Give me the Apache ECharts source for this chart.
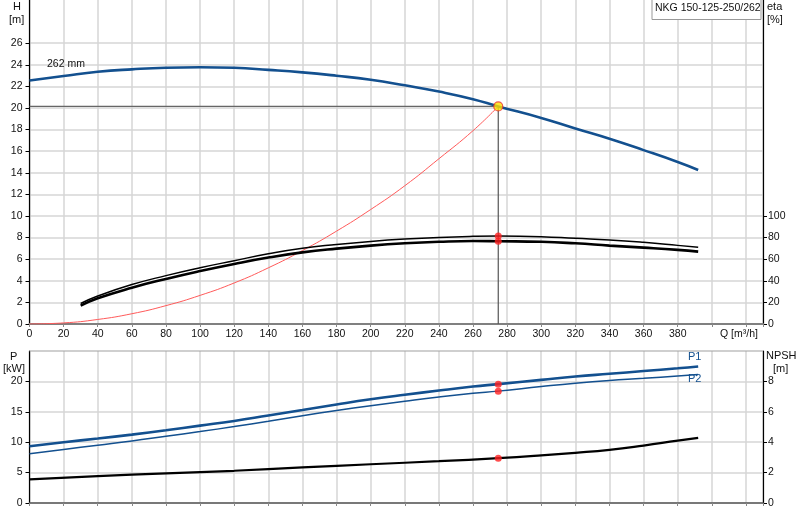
<!DOCTYPE html>
<html><head><meta charset="utf-8">
<script src="https://cdn.jsdelivr.net/npm/echarts@6/dist/echarts.min.js"></script>
<style>html,body{margin:0;padding:0;background:#fff}#c{width:800px;height:520px}</style>
</head><body><div id="c"></div>
<script>
// ---- data ----
const opQ = 274.8;          // duty point flow [m3/h]
const opH = 20.15;          // duty point head [m]
const headCurve = [[0,22.55],[20,22.96],[40,23.35],[60,23.58],[80,23.73],[100,23.77],[120,23.72],[140,23.53],[160,23.3],[180,22.99],[200,22.62],[220,22.1],[240,21.52],[260,20.82],[274.8,20.15],[300,19.08],[320,18.1],[340,17.15],[360,16.1],[380,15.0],[392,14.26]];
const systemCurve = [[0,0],[20,0.1],[40,0.42],[60,0.95],[80,1.7],[100,2.65],[120,3.8],[140,5.2],[160,6.8],[180,8.6],[200,10.6],[220,12.8],[240,15.3],[260,17.9],[274.8,20.15]];
const etaPump = [[30,19],[40,25.9],[60,36.5],[80,44.8],[100,52.1],[120,58.6],[140,65],[160,70.2],[180,73.6],[200,76.4],[220,78.6],[240,80.2],[260,81.2],[274.8,81.5],[300,80.9],[320,79.3],[340,77.8],[360,75.6],[380,72.8],[392,71]];
const etaTotal = [[30,17],[40,23.8],[60,33.6],[80,41.7],[100,49],[120,55.6],[140,61.5],[160,66.3],[180,69.8],[200,72.6],[220,74.7],[240,76.1],[260,76.8],[274.8,76.6],[300,76.1],[320,74.7],[340,72.6],[360,70.7],[380,68.6],[392,67]];
const p1Curve = [[0,9.34],[20,10.0],[40,10.6],[60,11.25],[80,11.97],[100,12.73],[120,13.5],[140,14.4],[160,15.3],[180,16.2],[200,17.05],[220,17.8],[240,18.5],[260,19.15],[274.8,19.55],[300,20.25],[320,20.8],[340,21.25],[360,21.7],[380,22.15],[392,22.46]];
const p2Curve = [[0,8.1],[20,8.8],[40,9.5],[60,10.2],[80,10.98],[100,11.75],[120,12.57],[140,13.45],[160,14.35],[180,15.2],[200,16.0],[220,16.75],[240,17.45],[260,18.05],[274.8,18.4],[300,19.15],[320,19.7],[340,20.15],[360,20.5],[380,20.9],[392,21.15]];
const npshCurve = [[0,1.55],[40,1.77],[80,1.95],[120,2.12],[160,2.34],[200,2.55],[240,2.75],[274.8,2.95],[300,3.13],[320,3.3],[340,3.5],[360,3.78],[380,4.1],[392,4.28]];
const qLabels = [0,20,40,60,80,100,120,140,160,180,200,220,240,260,280,300,320,340,360,380];
const hLabels = [0,2,4,6,8,10,12,14,16,18,20,22,24,26];
const etaLabels = [0,20,40,60,80,100];
const pLabels = [0,5,10,15,20];
const npshLabels = [0,2,4,6,8];

const FONT = 'Liberation Sans, Arial, sans-serif';
const BLUE = '#13508f';
const GRIDC = '#d6d6d6';
const chart = echarts.init(document.getElementById('c'), null, {renderer:'canvas'});

function xAx(grid, labels){
  return {type:'value', gridIndex:grid, min:0, max:430, interval:20,
    axisLine:{show:true, onZero:false, lineStyle:{color: grid===0?'#808080':'#555', width: grid===0?2:1.5}},
    axisTick:{show:true, length:3, lineStyle:{color:'#888'}},
    axisLabel:{show:labels, margin:5, fontSize:10.5, fontFamily:FONT, color:'#111',
      formatter: v => qLabels.indexOf(v) >= 0 ? String(v) : ''},
    splitLine:{show:true, lineStyle:{color:GRIDC, width:1.5}}};
}
function yAx(grid, pos, max, interval, labels, split){
  return {type:'value', gridIndex:grid, position:pos, min:0, max:max, interval:interval,
    axisLine:{show:true, onZero:false, lineStyle:{color:'#000', width:1.2}},
    axisTick:{show:true, length:4, inside:false, customValues:labels, lineStyle:{color:'#000'}},
    axisLabel:{show:true, margin: pos==='left'?7:5, fontSize:10.5, fontFamily:FONT, color:'#111',
      customValues:labels, formatter: v => labels.indexOf(v) >= 0 ? String(v) : ''},
    splitLine:{show:split, lineStyle:{color:GRIDC, width:1.5}}};
}
function line(data, xi, yi, color, width, z, sm){
  return {type:'line', data:data, xAxisIndex:xi, yAxisIndex:yi, smooth: sm===undefined?0.5:sm, symbol:'none',
    lineStyle:{color:color, width:width}, z:z||3, silent:true, animation:false};
}
function dots(data, xi, yi, color, size, border){
  return {type:'scatter', data:data, xAxisIndex:xi, yAxisIndex:yi, symbolSize:size,
    itemStyle:{color:color, borderColor:border||color, borderWidth:border?1.2:0}, z:10, animation:false};
}

const opt = {
  animation:false,
  backgroundColor:'#fff',
  grid:[{left:29.5, right:37, top:0, height:324},{left:29.5, right:37, top:351, height:152}],
  xAxis:[xAx(0,true), xAx(1,false)],
  yAxis:[yAx(0,'left',30,2,hLabels,true), yAx(0,'right',300,20,etaLabels,false),
         yAx(1,'left',25,5,pLabels,true), yAx(1,'right',10,2,npshLabels,false)],
  series:[
    line([[0,opH],[opQ,opH]],0,0,'#666',1.2,2,false),
    line([[opQ,opH],[opQ,0]],0,0,'#555',1.2,2,false),
    line(systemCurve,0,0,'#ff5a5a',1,3),
    line(headCurve,0,0,BLUE,2.6,4),
    line(etaPump,0,1,'#000',1.5,4),
    line(etaTotal,0,1,'#000',2.6,4),
    dots([[opQ,opH]],0,0,'#ffe000',9,'#e83030'),
    dots([[opQ,81.5],[opQ,76.6]],0,1,'#ff2020',7),
    line(p1Curve,1,2,BLUE,2.6,4),
    line(p2Curve,1,2,BLUE,1.5,4),
    line(npshCurve,1,3,'#000',2.2,4),
    dots([[opQ,19.55],[opQ,18.4]],1,2,'#ff2020',7),
    dots([[opQ,2.95]],1,3,'#ff2020',7)
  ],
  graphic:[
    {type:'line', shape:{x1:29.5, y1:351, x2:763, y2:351}, style:{stroke:'#a0a0a0', lineWidth:1.2}, z:5},
    {type:'text', left:13, top:1, style:{text:'H', font:'11px '+FONT, fill:'#111'}},
    {type:'text', left:9, top:14, style:{text:'[m]', font:'11px '+FONT, fill:'#111'}},
    {type:'text', left:767, top:1, style:{text:'eta', font:'11px '+FONT, fill:'#111'}},
    {type:'text', left:767, top:14, style:{text:'[%]', font:'11px '+FONT, fill:'#111'}},
    {type:'text', left:10, top:351, style:{text:'P', font:'11px '+FONT, fill:'#111'}},
    {type:'text', left:3, top:363, style:{text:'[kW]', font:'11px '+FONT, fill:'#111'}},
    {type:'text', left:766, top:350, style:{text:'NPSH', font:'11px '+FONT, fill:'#111'}},
    {type:'text', left:773, top:363, style:{text:'[m]', font:'11px '+FONT, fill:'#111'}},
    {type:'text', left:720, top:329, style:{text:'Q [m³/h]', font:'10.5px '+FONT, fill:'#111'}},
    {type:'text', left:47, top:59, style:{text:'262 mm', font:'10.5px '+FONT, fill:'#111'}, z:20},
    {type:'text', left:688, top:351, style:{text:'P1', font:'11px '+FONT, fill:BLUE}, z:20},
    {type:'text', left:688, top:373, style:{text:'P2', font:'11px '+FONT, fill:BLUE}, z:20},
    {type:'rect', left:651.5, top:-1, shape:{width:109, height:20},
      style:{fill:'#fff', stroke:'#999', lineWidth:1}, z:30},
    {type:'text', left:655, top:3, style:{text:'NKG 150-125-250/262', font:'10.5px '+FONT, fill:'#111'}, z:31}
  ]
};
chart.setOption(opt);
</script></body></html>
